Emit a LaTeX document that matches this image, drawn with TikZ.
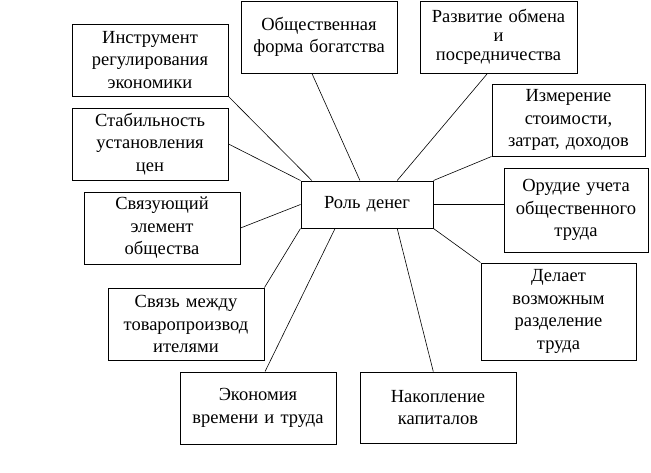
\documentclass[tikz,border=0pt]{standalone}
\usepackage{fontspec}
\setmainfont{Liberation Serif}
\usetikzlibrary{calc}

\begin{document}
\begin{tikzpicture}[x=1pt, y=-1pt,
  func/.style={draw, line width=1pt, minimum width=156pt, minimum height=72pt,
    text width=150pt, inner sep=0pt, align=center,
    font=\fontsize{18.5}{22.5}\selectfont},
  link/.style={line width=0.6pt}]
\useasboundingbox (0,0) rectangle (651,472);
\node [func, minimum width=132pt, minimum height=47pt, text width=126pt] (role) at (367,204.5) {Роль денег};
\node [func] (instr) at (150,60) {Инструмент\\ регулирования\\ экономики};
\node [func] (stab) at (150,144) {Стабильность\\ установления\\ цен};
\node [func] (svz) at (162,228) {Связующий\\ элемент\\ общества};
\node [func] (svyaz) at (186,324) {Связь между\\ товаропроизвод\\ ителями};
\node [func] (ekon) at (258,408) {Экономия\\ времени и труда};
\node [func, minimum height=71pt] (nakop) at (438,407.5) {Накопление\\ капиталов};
\node [func, minimum width=155pt, minimum height=97pt, text width=149pt] (delaet) at (558.5,311.5) {Делает\\ возможным\\ разделение\\ труда};
\node [func, minimum width=144pt, minimum height=84pt, text width=138pt] (orud) at (576,210) {Орудие учета\\ общественного\\ труда};
\node [func, minimum width=153pt, text width=147pt] (izm) at (568.5,120) {Измерение\\ стоимости,\\ затрат, доходов};
\node [func, minimum width=157pt, text width=151pt, font=\fontsize{18.5}{19}\selectfont] (razv) at (498.5,37) {Развитие обмена\\ и\\ посредничества};
\node [func] (obsh) at (319,37) {Общественная\\ форма богатства};

\draw [link] (instr.south east) -- ($(role.north west)!.085!(role.north east)$);
\draw [link] (stab.east) -- (role.north west);
\draw [link] ($(obsh.south west)!.455!(obsh.south east)$) -- ($(role.north west)!.447!(role.north east)$);
\draw [link] ($(razv.south west)!.43!(razv.south east)$) -- ($(role.north west)!.727!(role.north east)$);
\draw [link] (izm.south west) -- (role.north east);
\draw [link] (role.east) -- (role.east -| orud.west);
\draw [link] (role.south east) -- (delaet.north west);
\draw [link] ($(role.south west)!.727!(role.south east)$) -- ($(nakop.north west)!.47!(nakop.north east)$);
\draw [link] ($(role.south west)!.26!(role.south east)$) -- ($(ekon.north west)!.545!(ekon.north east)$);
\draw [link] (svyaz.north east) -- (role.south west);
\draw [link] (svz.east) -- (role.west);
\end{tikzpicture}
\end{document}
